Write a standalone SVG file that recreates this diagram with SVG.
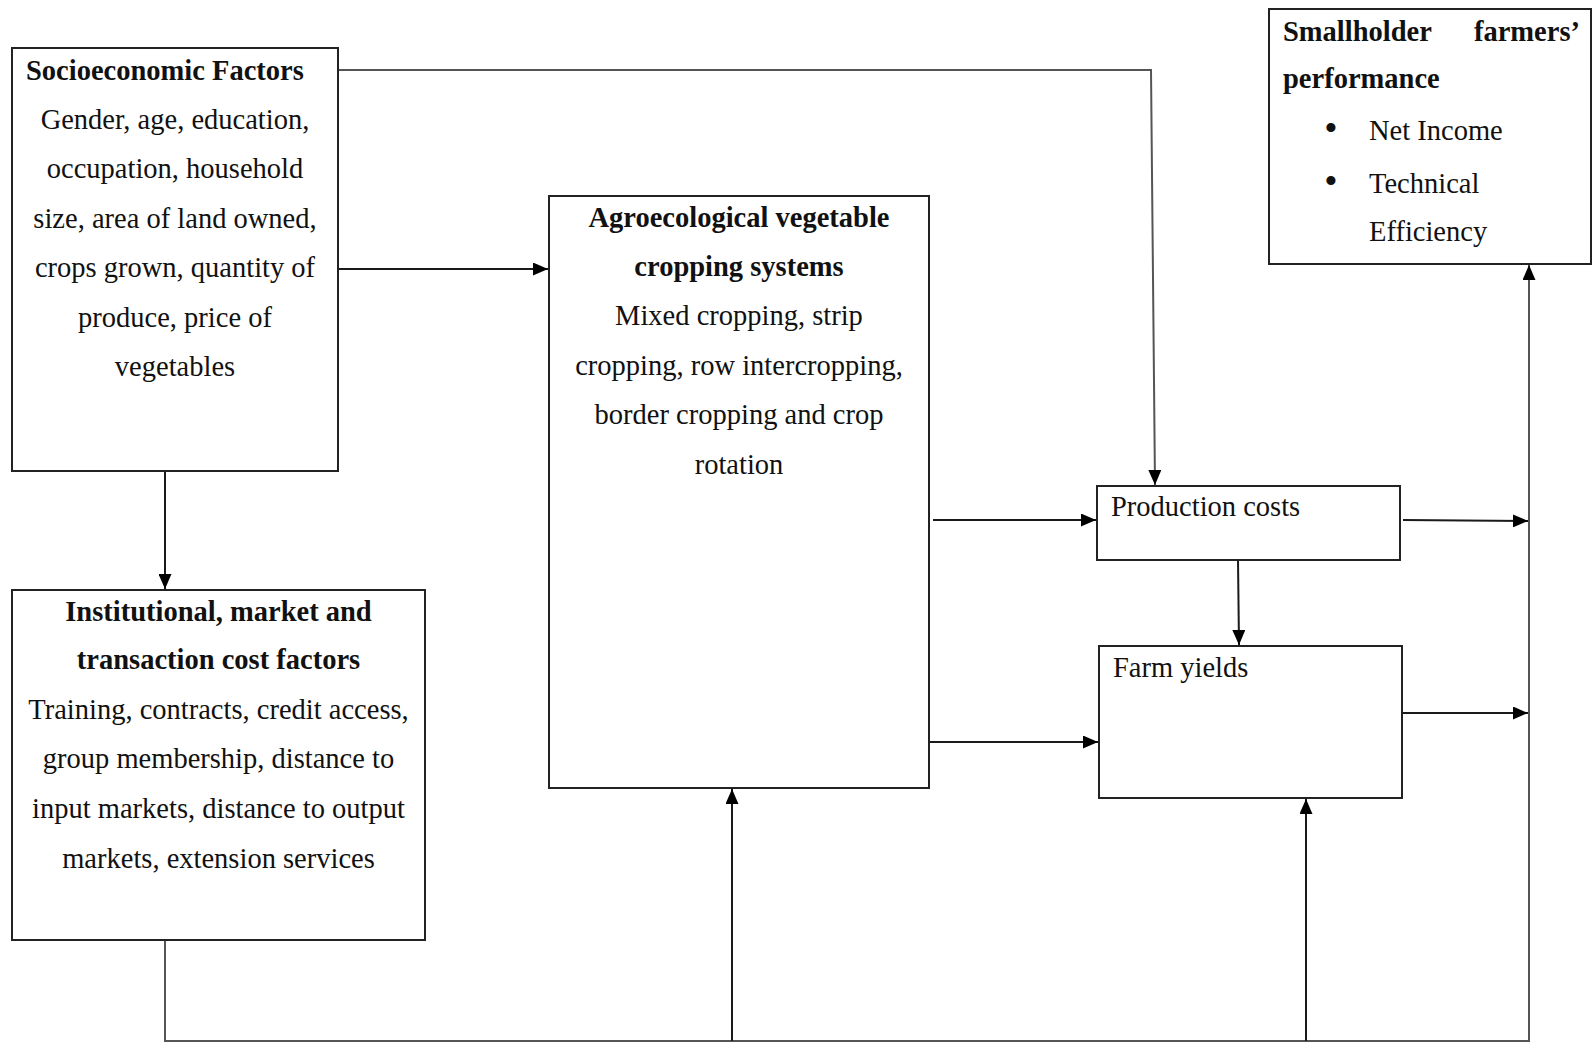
<svg xmlns="http://www.w3.org/2000/svg" width="1593" height="1043" viewBox="0 0 1593 1043">
<style>
text{font-family:"Liberation Serif","Times New Roman",serif;font-size:28.5px;fill:#111}
.b{font-weight:bold}
.c{text-anchor:middle}
.bul{font-size:38px;text-anchor:middle}
.box{fill:#fff;stroke:#222;stroke-width:2}
.ln{fill:none;stroke:#1a1a1a;stroke-width:2}
.g{stroke:#555}
</style>
<defs>
<marker id="ah" markerWidth="15" markerHeight="13" refX="15" refY="6.5" orient="auto" markerUnits="userSpaceOnUse"><path d="M0,0 L15,6.5 L0,13 z" fill="#000"/></marker>
</defs>
<rect width="1593" height="1043" fill="#fff"/>
<g id="connectors">
<path class="ln g" d="M338,70 H1151 L1155,485" marker-end="url(#ah)"/>
<path class="ln" d="M338,269 H548" marker-end="url(#ah)"/>
<path class="ln" d="M165,471 V589" marker-end="url(#ah)"/>
<path class="ln" d="M933,520 H1096" marker-end="url(#ah)"/>
<path class="ln" d="M930,742 H1098" marker-end="url(#ah)"/>
<path class="ln" d="M1238,560 L1239,645" marker-end="url(#ah)"/>
<path class="ln" d="M1403,520 L1528,521" marker-end="url(#ah)"/>
<path class="ln" d="M1402,713 H1528" marker-end="url(#ah)"/>
<path class="ln g" d="M165,940 V1041 H1529 V265" marker-end="url(#ah)"/>
<path class="ln" d="M732,1041 V789" marker-end="url(#ah)"/>
<path class="ln" d="M1306,1041 V799" marker-end="url(#ah)"/>
</g>
<g id="socio">
<rect class="box" x="12" y="48" width="326" height="423"/>
<text class="b" x="26" y="80">Socioeconomic Factors</text>
<text class="c" x="175" y="129">Gender, age, education,</text>
<text class="c" x="175" y="178">occupation, household</text>
<text class="c" x="175" y="228">size, area of land owned,</text>
<text class="c" x="175" y="277">crops grown, quantity of</text>
<text class="c" x="175" y="327">produce, price of</text>
<text class="c" x="175" y="376">vegetables</text>
</g>
<g id="institutional">
<rect class="box" x="12" y="590" width="413" height="350"/>
<text class="b c" x="218.5" y="621">Institutional, market and</text>
<text class="b c" x="218.5" y="669">transaction cost factors</text>
<text class="c" x="218.5" y="719">Training, contracts, credit access,</text>
<text class="c" x="218.5" y="768">group membership, distance to</text>
<text class="c" x="218.5" y="818">input markets, distance to output</text>
<text class="c" x="218.5" y="868">markets, extension services</text>
</g>
<g id="agro">
<rect class="box" x="549" y="196" width="380" height="592"/>
<text class="b c" x="739" y="227">Agroecological vegetable</text>
<text class="b c" x="739" y="276">cropping systems</text>
<text class="c" x="739" y="325">Mixed cropping, strip</text>
<text class="c" x="739" y="375">cropping, row intercropping,</text>
<text class="c" x="739" y="424">border cropping and crop</text>
<text class="c" x="739" y="474">rotation</text>
</g>
<g id="production">
<rect class="box" x="1097" y="486" width="303" height="74"/>
<text x="1111" y="516">Production costs</text>
</g>
<g id="yields">
<rect class="box" x="1099" y="646" width="303" height="152"/>
<text x="1113" y="677">Farm yields</text>
</g>
<g id="performance">
<rect class="box" x="1269" y="9" width="322" height="255"/>
<text class="b" x="1283" y="41">Smallholder</text>
<text class="b" x="1580" y="41" text-anchor="end">farmers’</text>
<text class="b" x="1283" y="88">performance</text>
<text class="bul" x="1331" y="141">•</text>
<text x="1369" y="140">Net Income</text>
<text class="bul" x="1331" y="194">•</text>
<text x="1369" y="193">Technical</text>
<text x="1369" y="241">Efficiency</text>
</g>
</svg>
